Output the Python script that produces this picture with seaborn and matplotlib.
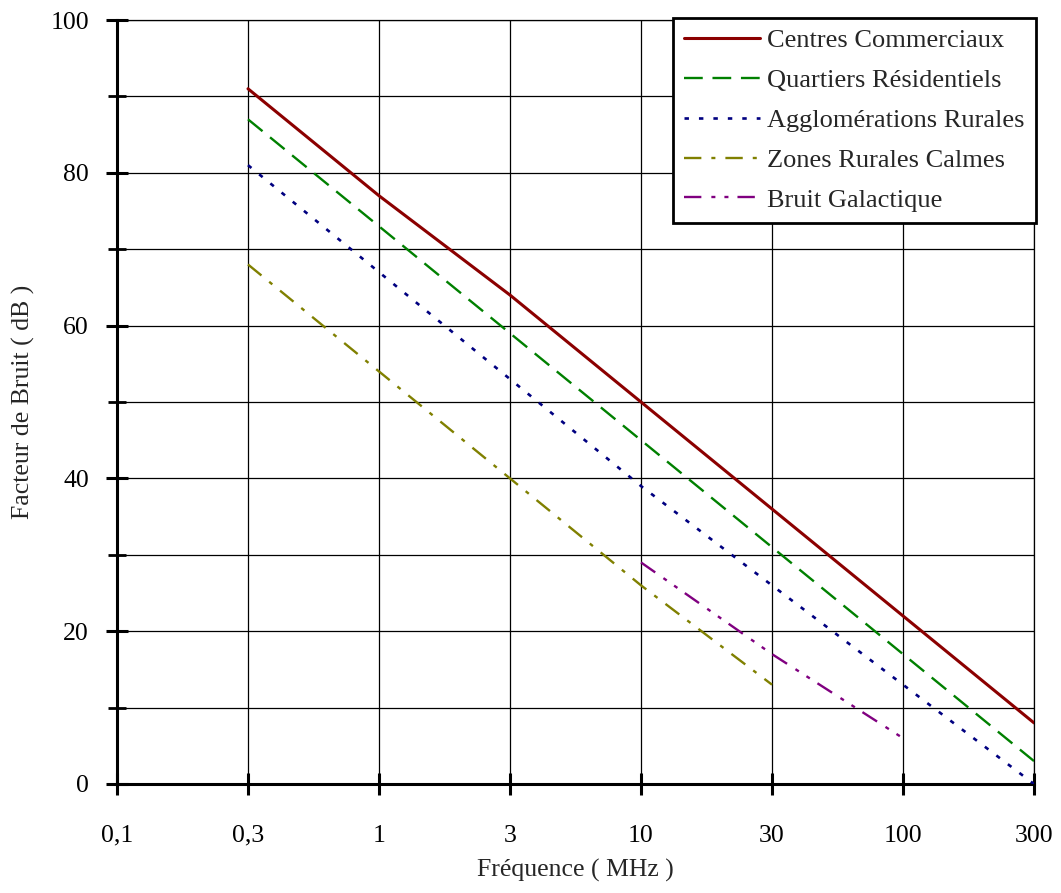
import matplotlib
matplotlib.use("Agg")
import matplotlib.pyplot as plt
from matplotlib.ticker import MultipleLocator, FixedLocator
import seaborn as sns
import pandas as pd

# ---- data ----
freq_labels = ["0,1", "0,3", "1", "3", "10", "30", "100", "300"]

centres_freq = ["0,3", "1", "3", "10", "30", "100", "300"]
centres_vals = [91, 77, 64, 50, 36, 22, 8]

quartiers_freq = ["0,3", "1", "3", "10", "30", "100", "300"]
quartiers_vals = [87, 73, 59, 45, 31, 17, 3]

agglo_freq = ["0,3", "1", "3", "10", "30", "100", "300"]
agglo_vals = [81, 67, 53, 39, 26, 13, 0]

calmes_freq = ["0,3", "1", "3", "10", "30"]
calmes_vals = [68, 54, 40, 26, 13]

galactique_freq = ["10", "30", "100"]
galactique_vals = [29, 17, 6]

series_names = ["Centres Commerciaux", "Quartiers Résidentiels",
                "Agglomérations Rurales", "Zones Rurales Calmes",
                "Bruit Galactique"]

# ---- style ----
sns.set_theme(style="ticks")
plt.rcParams["font.family"] = ["Liberation Serif", "DejaVu Serif"]
plt.rcParams["lines.scale_dashes"] = False

colors = ["#8b0000", "#008000", "#000080", "#808000", "#800080"]
widths = [2.2, 1.7, 1.9, 1.7, 1.7]
styles = ["-",
          (0, (13.5, 7)),
          (0, (3.2, 7.2)),
          (0, (12.5, 7.2, 2.9, 7.2)),
          (0, (12.5, 7.2, 2.9, 6.5, 2.9, 6.5))]

data = [(centres_freq, centres_vals), (quartiers_freq, quartiers_vals),
        (agglo_freq, agglo_vals), (calmes_freq, calmes_vals),
        (galactique_freq, galactique_vals)]

fig = plt.figure(figsize=(10.61, 8.93), dpi=100)
ax = fig.add_axes([117 / 1061, 109 / 893, (1034 - 117) / 1061, (784 - 20) / 893])

for name, (fr, vals), c, w, ls in zip(series_names, data, colors, widths, styles):
    df = pd.DataFrame({"pos": [freq_labels.index(f) for f in fr], "val": vals})
    sns.lineplot(data=df, x="pos", y="val", ax=ax, color=c, linewidth=w,
                 linestyle=ls, label=name, zorder=3)

ax.set_xlim(0, len(freq_labels) - 1)
ax.set_ylim(0, 100)
ax.xaxis.set_major_locator(FixedLocator(range(len(freq_labels))))
ax.set_xticklabels(freq_labels)
ax.yaxis.set_major_locator(MultipleLocator(20))
ax.yaxis.set_minor_locator(MultipleLocator(10))

ax.grid(True, which="major", axis="both", color="black", linewidth=0.9)
ax.grid(True, which="minor", axis="y", color="black", linewidth=0.9)
ax.set_axisbelow(True)

for s in ["left", "bottom"]:
    ax.spines[s].set_linewidth(2.2)
    ax.spines[s].set_color("black")
for s in ["top", "right"]:
    ax.spines[s].set_linewidth(0.9)
    ax.spines[s].set_color("black")

ax.tick_params(axis="both", which="major", direction="inout", length=16.5,
               width=2.2, colors="black", labelsize=18.5)
ax.tick_params(axis="y", which="minor", direction="inout", length=13,
               width=2.0, colors="black")
ax.tick_params(axis="x", which="major", pad=21)
ax.tick_params(axis="y", which="major", pad=12)

ax.set_xlabel("Fréquence ( MHz )", fontsize=18.5, labelpad=9)
ax.set_ylabel("Facteur de Bruit ( dB )", fontsize=18.5, labelpad=11)

leg = ax.legend(loc="upper right", bbox_to_anchor=(1.002, 1.003), borderaxespad=0,
                fontsize=19, frameon=True, fancybox=False, handlelength=2.9,
                handletextpad=0.27, labelspacing=0.62, borderpad=0.42)
leg.get_frame().set_edgecolor("black")
leg.get_frame().set_linewidth(2.0)
leg.get_frame().set_alpha(1)
leg.set_zorder(5)

fig.savefig("out.png", dpi=100)
